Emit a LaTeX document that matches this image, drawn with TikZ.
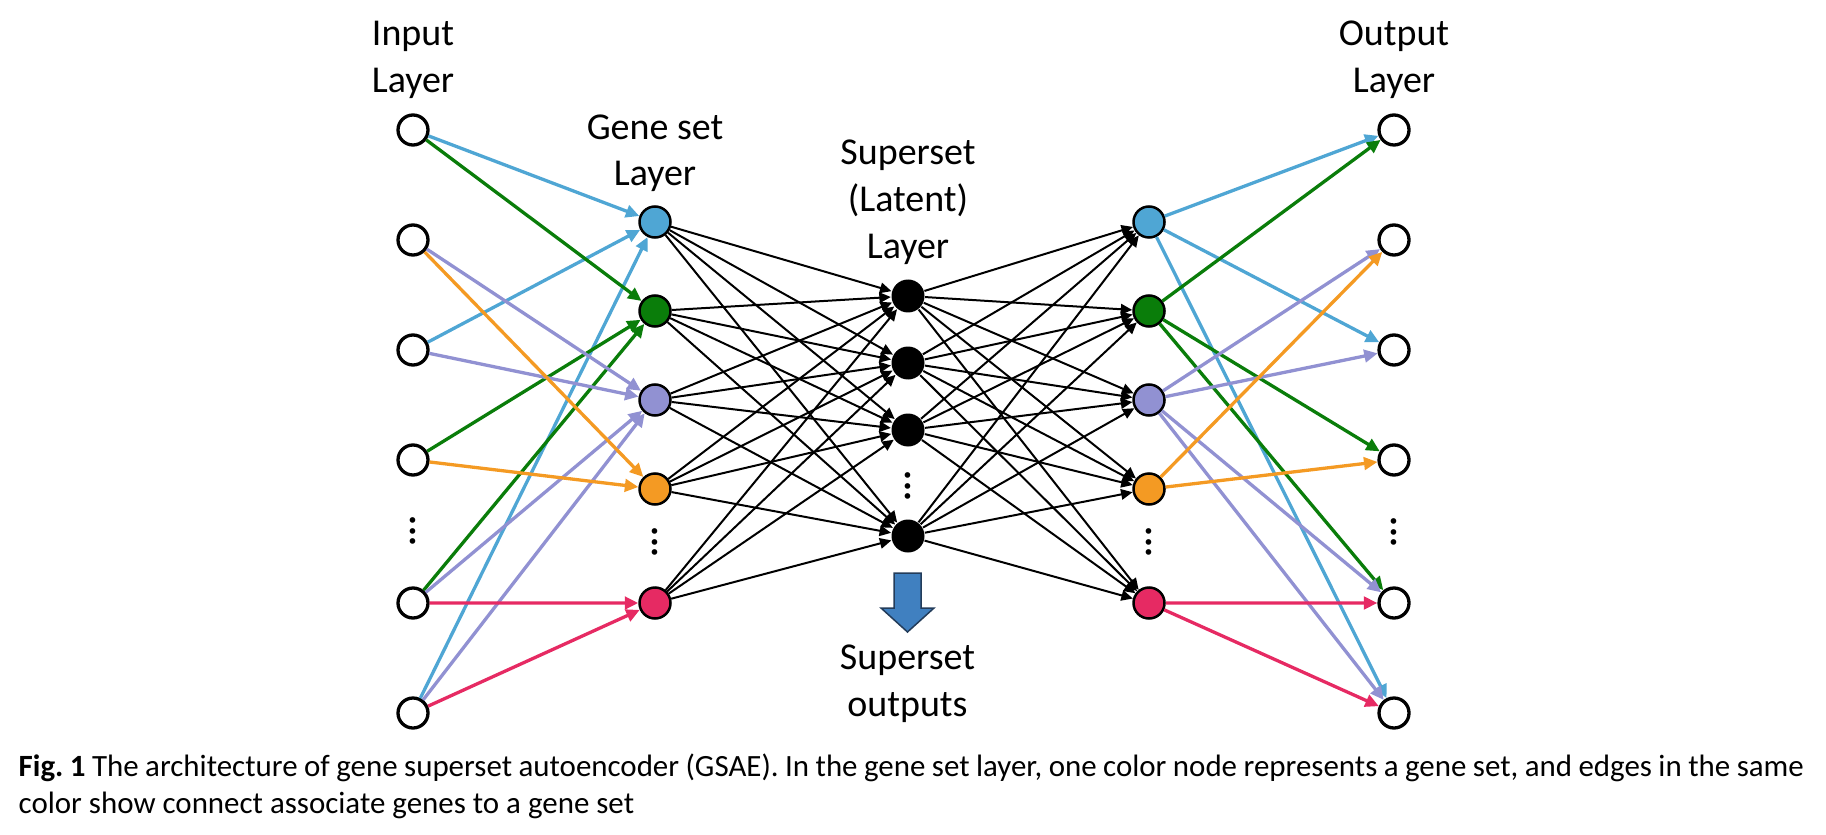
\documentclass[tikz,border=0pt]{standalone}
\usepackage{fontspec}
\setmainfont{Carlito}
\usetikzlibrary{positioning,arrows.meta}
\frenchspacing

\definecolor{cblue}{RGB}{79,166,212}
\definecolor{cgreen}{RGB}{10,125,10}
\definecolor{cpurple}{RGB}{145,145,210}
\definecolor{corange}{RGB}{244,154,35}
\definecolor{cpink}{RGB}{230,42,99}
\definecolor{arrblue}{RGB}{64,128,192}
\definecolor{arrline}{RGB}{35,60,90}

\tikzset{
	inp/.style={circle, draw, line width=0.33mm, minimum size=3mm, inner sep=0pt, fill=white, on grid},
	gene/.style={circle, draw, line width=0.25mm, minimum size=3.1mm, inner sep=0pt, fill=#1, on grid},
	lat/.style={circle, fill=black, minimum size=3.3mm, inner sep=0pt, on grid},
	dotsv/.style={inner sep=0pt, font=\fontsize{10.8}{13}\selectfont\bfseries, on grid},
	lbl/.style={inner sep=0pt, align=center, font=\fontsize{10.8}{13.3}\selectfont},
	capt/.style={inner sep=0pt, font=\fontsize{8.8}{10.5}\selectfont},
	wire/.style={line width=0.33mm, draw=#1, -{Triangle[length=1.35mm,width=1.25mm]}},
	link/.style={line width=0.2mm, -{Triangle[length=1.15mm,width=1.05mm]}},
}

\begin{document}
\begin{tikzpicture}[x=1mm,y=-1mm]
	\useasboundingbox (0,0) rectangle (182.6,83.5);
	%% input layer
	\node[inp] (in1) at (41.3,13) {};
	\node[inp, below =11mm of in1] (in2) {};
	\node[inp, below =11mm of in2] (in3) {};
	\node[inp, below =11mm of in3] (in4) {};
	\node[inp, below =14.3mm of in4] (in5) {};
	\node[inp, below =11mm of in5] (in6) {};
	\node[dotsv, below =7.1mm of in4] (ind) {\rotatebox{90}{...}};
	\node[lbl, above =1.4mm of in1] (tin) {Input\\Layer};
	%% gene set layer
	\node[gene=cblue] (g1) at (65.5,22.2) {};
	\node[gene=cgreen, below =8.9mm of g1] (g2) {};
	\node[gene=cpurple, below =8.9mm of g2] (g3) {};
	\node[gene=corange, below =8.9mm of g3] (g4) {};
	\node[gene=cpink, below =11.4mm of g4] (g5) {};
	\node[dotsv, below =5.3mm of g4] (gd) {\rotatebox{90}{...}};
	\node[lbl, above =1.25mm of g1] (tg) {Gene set\\Layer};
	%% latent layer
	\node[lat] (l1) at (90.8,29.6) {};
	\node[lat, below =6.7mm of l1] (l2) {};
	\node[lat, below =6.7mm of l2] (l3) {};
	\node[lat, below =10.6mm of l3] (l4) {};
	\node[dotsv, below =5.6mm of l3] (ld) {\rotatebox{90}{...}};
	\node[lbl, above =1.35mm of l1] (tl) {Superset\\(Latent)\\Layer};
	%% gene set layer (decoder)
	\node[gene=cblue, right =49.4mm of g1] (h1) {};
	\node[gene=cgreen, below =8.9mm of h1] (h2) {};
	\node[gene=cpurple, below =8.9mm of h2] (h3) {};
	\node[gene=corange, below =8.9mm of h3] (h4) {};
	\node[gene=cpink, below =11.4mm of h4] (h5) {};
	\node[dotsv, below =5.3mm of h4] (hd) {\rotatebox{90}{...}};
	%% output layer
	\node[inp, right =98.1mm of in1] (o1) {};
	\node[inp, below =11mm of o1] (o2) {};
	\node[inp, below =11mm of o2] (o3) {};
	\node[inp, below =11mm of o3] (o4) {};
	\node[inp, below =14.3mm of o4] (o5) {};
	\node[inp, below =11mm of o5] (o6) {};
	\node[dotsv, below =7.2mm of o4] (od) {\rotatebox{90}{...}};
	\node[lbl, above =1.4mm of o1] (to) {Output\\Layer};
	% coloured edges, mirrored on both sides
	\foreach \i/\j/\c in {1/1/cblue, 3/1/cblue, 6/1/cblue, 1/2/cgreen, 4/2/cgreen, 5/2/cgreen,
		2/3/cpurple, 3/3/cpurple, 5/3/cpurple, 6/3/cpurple, 2/4/corange, 4/4/corange, 5/5/cpink, 6/5/cpink}{
		\draw[wire=\c] (in\i) -- (g\j);
		\draw[wire=\c] (h\j) -- (o\i);
	}
	% dense edges to and from the latent layer
	\foreach \i in {1,...,5}
		\foreach \j in {1,...,4}{
			\draw[link] (g\i) -- (l\j);
			\draw[link] (l\j) -- (h\i);
		}
	% superset output arrow
	\coordinate (tip) at (90.75,63.2);
	\draw[fill=arrblue, draw=arrline, line width=0.15mm] (89.4,57.3) -- (92.1,57.3) -- (92.1,60.8) -- (93.4,60.8)
		-- (tip) -- (88.1,60.8) -- (89.4,60.8) -- cycle;
	\node[lbl, below =1.2mm of tip] (tout) {Superset\\outputs};
	% caption
	\node[capt, anchor=base west] (cap1) at (1.8,77.6) {\makebox[178.5mm][s]{\textbf{Fig. 1} The architecture of gene superset autoencoder (GSAE). In the gene set layer, one color node represents a gene set, and edges in the same}};
	\node[capt, anchor=base west] (cap2) at (1.8,81.3) {color show connect associate genes to a gene set};
\end{tikzpicture}
\end{document}
